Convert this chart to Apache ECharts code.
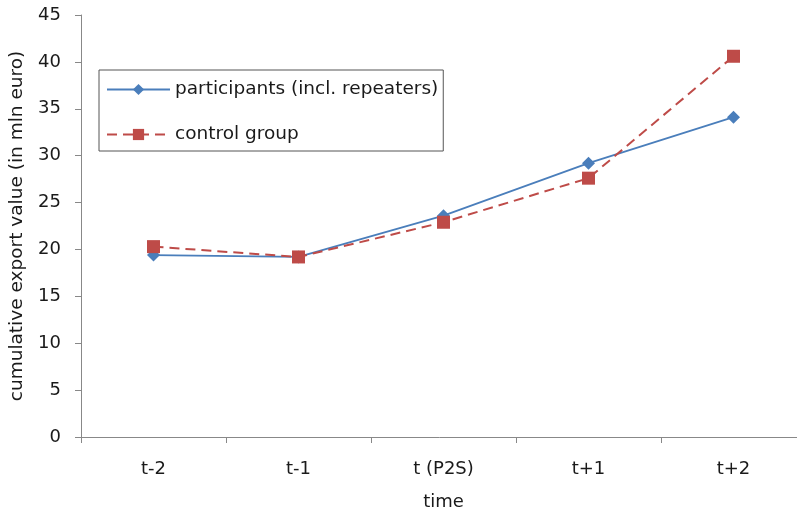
<!DOCTYPE html>
<html><head><meta charset="utf-8">
<script src="https://cdn.jsdelivr.net/npm/echarts@6/dist/echarts.min.js"></script>
<style>html,body{margin:0;padding:0;background:#fff}#c{width:797px;height:514px}</style>
</head><body><div id="c"></div>
<script>
var categories = ['t-2', 't-1', 't (P2S)', 't+1', 't+2'];
var participants = [19.4, 19.2, 23.6, 29.2, 34.1];
var controlGroup = [20.3, 19.2, 22.9, 27.6, 40.6];
var yTicks = [0, 5, 10, 15, 20, 25, 30, 35, 40, 45];

var font = '"DejaVu Sans", sans-serif';
var chart = echarts.init(document.getElementById('c'));
chart.setOption({
  animation: false,
  grid: { left: 81, top: 15, width: 725, height: 422, containLabel: false, outerBoundsMode: 'none' },
  legend: {
    left: 99, top: 70, orient: 'vertical',
    padding: [10, 5, 7, 7],
    borderColor: '#555', borderWidth: 1, borderRadius: 0,
    itemWidth: 63, itemHeight: 14, itemGap: 26,
    textStyle: { fontFamily: font, fontSize: 18.5, color: '#1a1a1a' },
    data: ['participants (incl. repeaters)', 'control group']
  },
  xAxis: {
    type: 'category', data: categories, boundaryGap: true,
    name: 'time', nameLocation: 'middle', nameGap: 56,
    nameTextStyle: { fontFamily: font, fontSize: 18, color: '#1a1a1a' },
    axisLine: { lineStyle: { color: '#888', width: 1 } },
    axisTick: { show: true, alignWithLabel: false, length: 6, lineStyle: { color: '#888' } },
    axisLabel: { fontFamily: font, fontSize: 18, color: '#1a1a1a', margin: 23 }
  },
  yAxis: {
    type: 'value', min: 0, max: 45, interval: 5,
    name: 'cumulative export value (in mln euro)', nameLocation: 'middle', nameGap: 54,
    nameTextStyle: { fontFamily: font, fontSize: 18.5, color: '#1a1a1a' },
    axisLine: { show: true, lineStyle: { color: '#888', width: 1 } },
    axisTick: { show: true, length: 6, lineStyle: { color: '#888' } },
    splitLine: { show: false },
    axisLabel: { fontFamily: font, fontSize: 18, color: '#1a1a1a', margin: 20,
      formatter: function (v) { return yTicks.indexOf(v) >= 0 ? String(v) : ''; } }
  },
  series: [
    { name: 'participants (incl. repeaters)', type: 'line', data: participants,
      symbol: 'diamond', symbolSize: 13,
      lineStyle: { color: '#4a7ebb', width: 1.8 },
      itemStyle: { color: '#4a7ebb' } },
    { name: 'control group', type: 'line', data: controlGroup,
      symbol: 'rect', symbolSize: 13,
      lineStyle: { color: '#be4b48', width: 2, type: [10, 6] },
      itemStyle: { color: '#be4b48' } }
  ]
});
</script></body></html>
